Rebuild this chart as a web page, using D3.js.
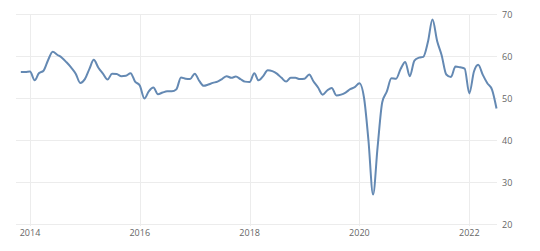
<!DOCTYPE html>
<html>
<head>
<meta charset="utf-8">
<script src="https://cdn.jsdelivr.net/npm/d3@7"></script>
<style>
  html, body { margin: 0; padding: 0; background: #fff; }
  svg { display: block; }
  text { font-family: "Open Sans", "Noto Sans", sans-serif; }
</style>
</head>
<body>
<svg id="chart" width="540" height="251"></svg>
<script>
// Monthly series, Nov 2013 .. Jul 2022
const firstMonth = "2013-11";
const lastMonth = "2022-07";
const values = [
  56.2, 56.2,
  56.3, 54.2, 55.9, 56.5, 59.0, 61.0, 60.3, 59.6, 58.5, 57.3, 55.8, 53.6,
  54.5, 57.0, 59.1, 57.2, 55.8, 54.4, 55.8, 55.7, 55.2, 55.3, 55.9, 53.9,
  53.0, 49.9, 51.6, 52.5, 50.9, 51.3, 51.6, 51.6, 52.1, 54.9, 54.6, 54.5,
  55.8, 54.0, 52.9, 53.2, 53.6, 53.9, 54.5, 55.2, 54.8, 55.1, 54.5, 53.9,
  53.8, 55.9, 54.2, 55.2, 56.6, 56.4, 55.8, 54.8, 53.9, 54.8, 54.8, 54.5,
  54.6, 55.6, 54.0, 52.5, 50.8, 51.8, 52.4, 50.6, 50.8, 51.3, 52.1, 52.6,
  53.5, 50.0, 40.0, 27.0, 38.3, 49.0, 51.5, 54.7, 54.6, 56.9, 58.6, 55.2,
  58.9, 59.6, 59.8, 63.4, 68.7, 63.6, 60.2, 55.6, 55.0, 57.5, 57.3, 57.0,
  51.1, 56.3, 57.9, 55.5, 53.5, 52.0, 47.5
];
const yTicks = [20, 30, 40, 50, 60, 70];
const xTickYears = [2014, 2016, 2018, 2020, 2022];

const svg = d3.select("#chart");
const parse = d3.timeParse("%Y-%m");
const dates = d3.timeMonth.range(parse(firstMonth), d3.timeMonth.offset(parse(lastMonth), 1));
const data = dates.map((d, i) => ({ date: d, value: values[i] }));

const x = d3.scaleTime()
  .domain([new Date(2014, 0, 1), new Date(2022, 0, 1)])
  .range([30, 469.3]);
const y = d3.scaleLinear().domain([20, 70]).range([224, 14]);

const gridLeft = 16, gridRight = 497;

// horizontal grid
svg.append("g").selectAll("line").data(yTicks).join("line")
  .attr("x1", gridLeft).attr("x2", gridRight)
  .attr("y1", d => y(d) + 0.5).attr("y2", d => y(d) + 0.5)
  .attr("stroke", "#ececec").attr("stroke-width", 1);

// vertical grid
svg.append("g").selectAll("line").data(xTickYears).join("line")
  .attr("x1", d => Math.round(x(new Date(d, 0, 1))) + 0.5)
  .attr("x2", d => Math.round(x(new Date(d, 0, 1))) + 0.5)
  .attr("y1", 14).attr("y2", 226)
  .attr("stroke", "#ececec").attr("stroke-width", 1);

// y labels on the right
svg.append("g").selectAll("text").data(yTicks).join("text")
  .attr("x", 502).attr("y", d => y(d) + 3.5)
  .attr("font-size", 9).attr("fill", "#666")
  .text(d => d);

// x labels
svg.append("g").selectAll("text").data(xTickYears).join("text")
  .attr("x", d => x(new Date(d, 0, 1)))
  .attr("y", 236)
  .attr("text-anchor", "middle")
  .attr("font-size", 9).attr("fill", "#666")
  .text(d => d);

// line
const line = d3.line()
  .x(d => x(d.date))
  .y(d => y(d.value))
  .curve(d3.curveMonotoneX);

svg.append("path")
  .datum(data)
  .attr("fill", "none")
  .attr("stroke", "#6489b3")
  .attr("stroke-width", 2)
  .attr("stroke-linejoin", "round")
  .attr("d", line);
</script>
</body>
</html>
